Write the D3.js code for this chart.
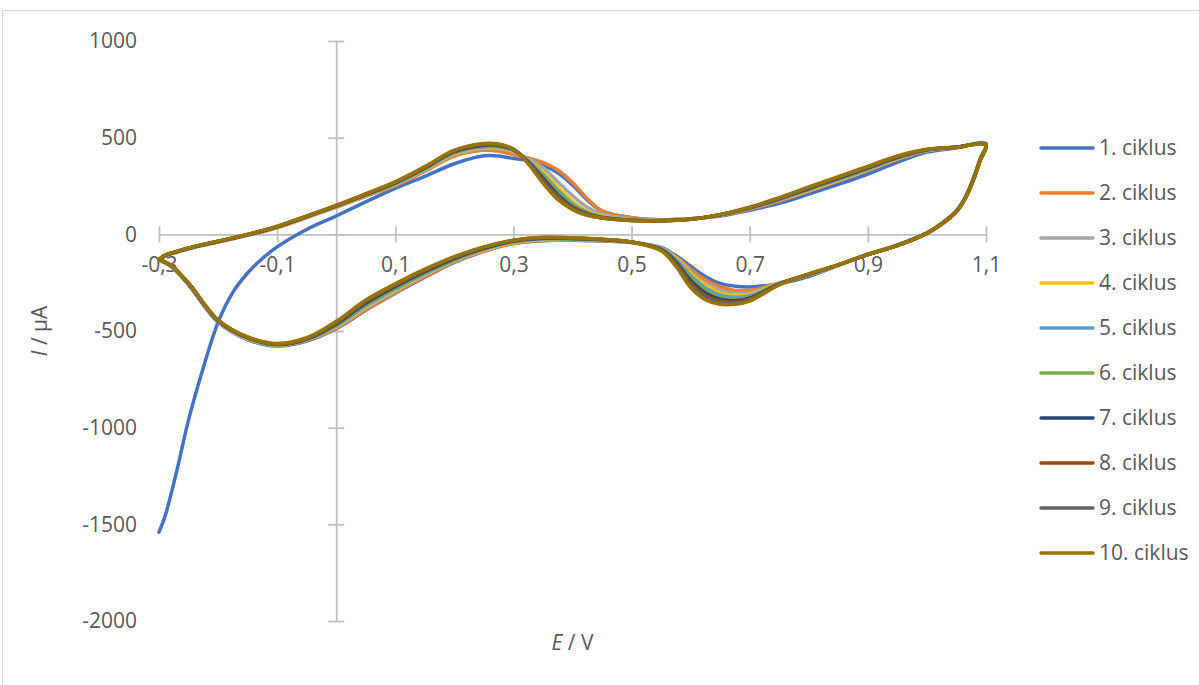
<!DOCTYPE html>
<html>
<head>
<meta charset="utf-8">
<script src="https://cdn.jsdelivr.net/npm/d3@7"></script>
<style>
  html, body { margin: 0; padding: 0; background: #fff; }
  svg { display: block; font-family: "Open Sans", "DejaVu Sans", sans-serif; }
</style>
</head>
<body>
<svg id="chart" width="1199" height="685"></svg>
<script>
// ---------- DATA ----------
// potential grid of the anodic sweep (V)
const potentialAnodic = [-0.3, -0.29, -0.27, -0.25, -0.225, -0.2, -0.175, -0.15, -0.125, -0.1, -0.05, 0, 0.05, 0.1, 0.15, 0.2, 0.25, 0.275, 0.3, 0.325, 0.35, 0.375, 0.4, 0.425, 0.45, 0.5, 0.55, 0.6, 0.65, 0.7, 0.75, 0.8, 0.85, 0.9, 0.95, 1.0, 1.05, 1.1];
// potential grid of the cathodic sweep (V)
const potentialCathodic = [1.09, 1.08, 1.065, 1.05, 1.025, 1.0, 0.95, 0.9, 0.85, 0.8, 0.75, 0.7, 0.675, 0.65, 0.625, 0.6, 0.575, 0.55, 0.5, 0.45, 0.4, 0.35, 0.3, 0.25, 0.2, 0.15, 0.1, 0.05, 0, -0.05, -0.1, -0.15, -0.2, -0.25, -0.28, -0.3];

// currents (µA), anodic then cathodic
const ciklus1A = [-1540, -1460, -1225, -960, -690, -455, -300, -200, -125, -65, 25, 95, 168, 238, 300, 365, 406, 405, 392, 382, 358, 318, 255, 178, 120, 86, 75, 80, 95, 125, 160, 208, 258, 312, 372, 425, 447, 470];
const ciklus1C = [390, 300, 193, 122, 57, 8, -55, -102, -160, -218, -255, -272, -268, -254, -218, -165, -110, -68, -42, -35, -30, -33, -48, -88, -145, -222, -305, -393, -488, -552, -578, -545, -455, -262, -165, -135];
const ciklus2A = [-135, -113, -93, -75, -57, -40, -23, -5, 13, 34, 86, 140, 196, 252, 326, 405, 435, 430, 412, 395, 372, 333, 268, 185, 122, 86, 76, 80, 98, 130, 172, 222, 275, 330, 388, 432, 450, 468];
const ciklus2C = [389, 299, 192, 121, 56, 7, -56, -103, -160, -212, -252, -290, -290, -271, -235, -180, -115, -72, -42, -33, -29, -32, -47, -86, -142, -218, -302, -390, -485, -548, -575, -541, -450, -258, -163, -132];
const ciklus3A = [-132, -112, -92, -74, -56, -39, -22, -4, 14, 35, 88, 142, 199, 256, 332, 413, 444, 442, 425, 390, 345, 272, 200, 140, 104, 79, 74, 80, 99, 133, 176, 225, 278, 332, 390, 433, 450, 467];
const ciklus3C = [388, 298, 191, 121, 56, 7, -56, -103, -159, -211, -252, -302, -305, -290, -252, -192, -119, -72, -42, -31, -27, -29, -44, -83, -139, -213, -295, -382, -481, -547, -574, -540, -450, -257, -163, -132];
const ciklus4A = [-132, -111, -91, -73, -55, -38, -21, -3, 15, 36, 89, 143, 201, 259, 335, 418, 449, 448, 430, 384, 322, 245, 172, 120, 94, 75, 72, 79, 99, 134, 178, 228, 281, 335, 392, 434, 450, 466];
const ciklus4C = [387, 297, 190, 120, 55, 6, -57, -104, -159, -210, -253, -311, -316, -303, -263, -202, -123, -73, -41, -30, -26, -27, -42, -81, -136, -208, -288, -375, -478, -546, -573, -539, -449, -257, -163, -131];
const ciklus5A = [-131, -111, -91, -73, -55, -38, -21, -3, 16, 37, 90, 145, 203, 262, 338, 422, 453, 452, 433, 381, 310, 228, 158, 114, 91, 74, 72, 79, 100, 135, 180, 231, 284, 338, 394, 435, 450, 466];
const ciklus5C = [386, 296, 190, 120, 55, 6, -57, -104, -159, -209, -254, -318, -326, -315, -277, -213, -129, -74, -41, -29, -24, -24, -39, -78, -133, -203, -282, -369, -474, -545, -572, -537, -448, -256, -162, -131];
const ciklus6A = [-131, -110, -90, -72, -54, -37, -20, -2, 17, 38, 91, 146, 204, 264, 341, 425, 457, 456, 436, 378, 300, 217, 150, 110, 89, 73, 71, 79, 100, 136, 182, 234, 287, 341, 396, 436, 450, 465];
const ciklus6C = [385, 295, 189, 119, 54, 6, -57, -104, -158, -208, -255, -324, -335, -326, -290, -225, -136, -76, -40, -28, -23, -22, -37, -75, -129, -198, -276, -362, -469, -544, -571, -536, -447, -255, -162, -131];
const ciklus7A = [-131, -110, -90, -72, -54, -37, -20, -2, 17, 39, 92, 147, 205, 266, 343, 428, 461, 460, 438, 375, 290, 205, 142, 106, 87, 73, 71, 78, 101, 137, 184, 237, 290, 344, 398, 437, 451, 464];
const ciklus7C = [384, 294, 188, 119, 54, 6, -57, -105, -158, -207, -256, -330, -343, -336, -303, -238, -143, -78, -40, -27, -21, -20, -35, -72, -125, -193, -270, -356, -464, -542, -569, -534, -446, -254, -161, -130];
const ciklus8A = [-130, -109, -89, -71, -53, -36, -19, -1, 18, 40, 93, 148, 207, 268, 345, 430, 464, 463, 440, 372, 282, 197, 137, 103, 86, 72, 70, 78, 101, 138, 186, 240, 293, 347, 401, 438, 451, 463];
const ciklus8C = [383, 293, 187, 118, 53, 5, -58, -105, -158, -206, -257, -334, -350, -345, -315, -250, -150, -80, -40, -26, -20, -18, -33, -69, -121, -188, -264, -350, -459, -540, -568, -533, -445, -254, -161, -130];
const ciklus9A = [-130, -109, -89, -71, -53, -36, -19, -1, 19, 41, 94, 149, 208, 270, 347, 432, 467, 465, 440, 370, 275, 190, 133, 101, 85, 72, 70, 78, 102, 139, 188, 242, 295, 349, 403, 439, 451, 463];
const ciklus9C = [382, 292, 186, 118, 53, 5, -58, -105, -158, -206, -258, -338, -355, -352, -325, -262, -157, -82, -40, -26, -19, -16, -31, -67, -118, -184, -260, -345, -455, -538, -567, -532, -444, -253, -160, -130];
const ciklus10A = [-130, -108, -88, -70, -52, -35, -18, 0, 20, 42, 95, 150, 210, 272, 350, 435, 470, 467, 440, 365, 265, 180, 128, 98, 84, 72, 70, 78, 102, 140, 190, 245, 298, 352, 406, 440, 451, 462];
const ciklus10C = [380, 290, 185, 117, 52, 5, -58, -105, -158, -205, -262, -345, -362, -362, -338, -275, -165, -85, -40, -25, -18, -15, -30, -65, -115, -180, -256, -340, -450, -535, -565, -530, -443, -252, -160, -130];

const seriesNames = ["1. ciklus", "2. ciklus", "3. ciklus", "4. ciklus", "5. ciklus", "6. ciklus", "7. ciklus", "8. ciklus", "9. ciklus", "10. ciklus"];
const seriesColors = ["#4472C4", "#ED7D31", "#A5A5A5", "#FFC000", "#5B9BD5", "#70AD47", "#264478", "#9E480E", "#636363", "#997300"];
const xTickValues = [-0.3, -0.1, 0.1, 0.3, 0.5, 0.7, 0.9, 1.1];
const yTickValues = [-2000, -1500, -1000, -500, 0, 500, 1000];

const anodic = [ciklus1A, ciklus2A, ciklus3A, ciklus4A, ciklus5A, ciklus6A, ciklus7A, ciklus8A, ciklus9A, ciklus10A];
const cathodic = [ciklus1C, ciklus2C, ciklus3C, ciklus4C, ciklus5C, ciklus6C, ciklus7C, ciklus8C, ciklus9C, ciklus10C];

// ---------- CHART ----------
const svg = d3.select("#chart");
const textColor = "#595959";
const axisColor = "#bfbfbf";
const fontSize = 21;

svg.append("rect").attr("x", 2.5).attr("y", 10.5).attr("width", 1300).attr("height", 800)
  .attr("fill", "#fff").attr("stroke", "#d9d9d9").attr("stroke-width", 1.2);

const x = d3.scaleLinear().domain([-0.3, 1.1]).range([159, 986]);
const y = d3.scaleLinear().domain([-2000, 1000]).range([621, 41]);

const loc = d3.formatLocale({decimal: ",", thousands: "", grouping: [3], currency: ["", ""], minus: "-"});
const fx = loc.format(".1f");
const fy = loc.format("d");

// vertical axis at E = 0
const yAxisG = svg.append("g").attr("transform", `translate(${x(0)},0)`)
  .call(d3.axisLeft(y).tickValues(yTickValues).tickFormat(fy).tickSizeInner(8).tickSizeOuter(0));
yAxisG.select(".domain").attr("stroke", axisColor).attr("stroke-width", 1.8);
yAxisG.selectAll(".tick line").attr("stroke", axisColor).attr("stroke-width", 1.8).attr("x1", -8).attr("x2", 8);
yAxisG.selectAll(".tick text").attr("x", x(-0.3) - x(0) - 22).attr("dy", "0.33em")
  .attr("fill", textColor).style("font-size", fontSize + "px").style("font-family", "Open Sans");

// horizontal axis at I = 0
const xAxisG = svg.append("g").attr("transform", `translate(0,${y(0)})`)
  .call(d3.axisBottom(x).tickValues(xTickValues).tickFormat(fx).tickSizeInner(8).tickSizeOuter(0));
xAxisG.select(".domain").attr("stroke", axisColor).attr("stroke-width", 1.8);
xAxisG.selectAll(".tick line").attr("stroke", axisColor).attr("stroke-width", 1.8).attr("y1", -8).attr("y2", 8);
xAxisG.selectAll(".tick text").attr("y", 23).attr("dy", "0.71em")
  .attr("fill", textColor).style("font-size", fontSize + "px").style("font-family", "Open Sans");

// series
const line = d3.line().x(d => x(d[0])).y(d => y(d[1])).curve(d3.curveCatmullRom.alpha(0.5));
const plotG = svg.append("g");
seriesNames.forEach((name, i) => {
  const pts = potentialAnodic.map((e, k) => [e, anodic[i][k]])
    .concat(potentialCathodic.map((e, k) => [e, cathodic[i][k]]));
  plotG.append("path").datum(pts).attr("d", line)
    .attr("fill", "none").attr("stroke", seriesColors[i]).attr("stroke-width", 3.5)
    .attr("stroke-linejoin", "round").attr("stroke-linecap", "round");
});

// axis titles
svg.append("text").attr("x", (x(-0.3) + x(1.1)) / 2).attr("y", 650).attr("text-anchor", "middle")
  .attr("fill", textColor).style("font-size", fontSize + "px")
  .call(t => { t.append("tspan").attr("font-style", "italic").text("E"); t.append("tspan").text(" / V"); });
svg.append("text").attr("transform", `translate(47,${(y(1000) + y(-2000)) / 2}) rotate(-90)`).attr("text-anchor", "middle")
  .attr("fill", textColor).style("font-size", fontSize + "px")
  .call(t => { t.append("tspan").attr("font-style", "italic").text("I"); t.append("tspan").text(" / µA"); });

// legend
const legend = svg.append("g");
seriesNames.forEach((name, i) => {
  const ly = 148 + i * 45;
  legend.append("line").attr("x1", 1041).attr("x2", 1093).attr("y1", ly).attr("y2", ly)
    .attr("stroke", seriesColors[i]).attr("stroke-width", 3.5).attr("stroke-linecap", "round");
  legend.append("text").attr("x", 1099).attr("y", ly).attr("dy", "0.35em")
    .attr("fill", textColor).style("font-size", fontSize + "px").text(name);
});
</script>
</body>
</html>
